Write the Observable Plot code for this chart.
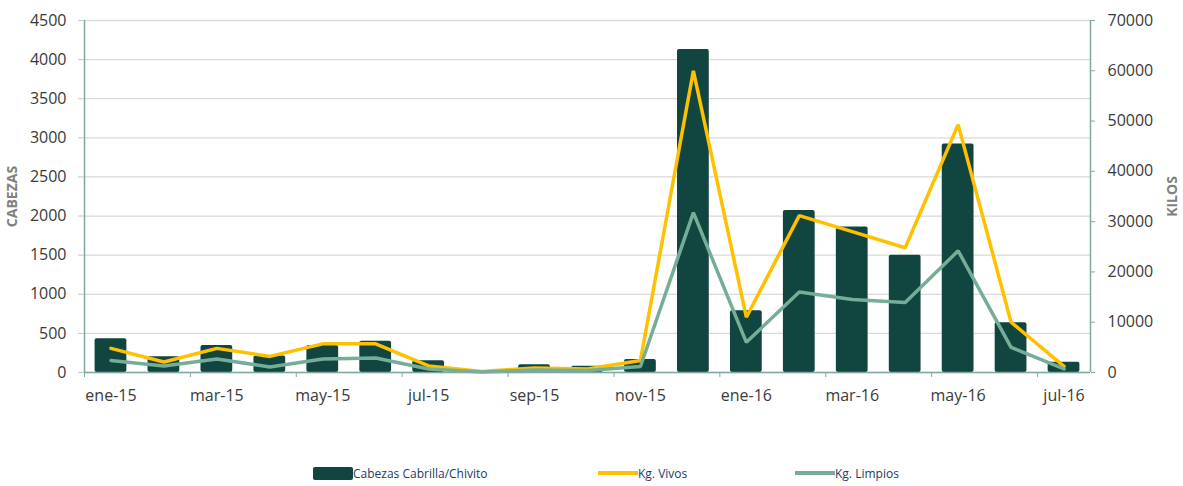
<!DOCTYPE html>
<html>
<head>
<meta charset="utf-8">
<script src="https://cdn.jsdelivr.net/npm/d3@7"></script>
<script src="https://cdn.jsdelivr.net/npm/@observablehq/plot@0.6"></script>
<style>
  body { margin: 0; background: #fff; font-family: "Open Sans", sans-serif; }
  #chart { position: relative; width: 1183px; }
  #legend { position: relative; height: 46px; width: 1183px; font-size: 12px; color: #1f3864; }
  .item { position: absolute; top: 26px; display: flex; align-items: center; height: 14px; }
  .sw { display: inline-block; }
</style>
</head>
<body>
<div id="chart"></div>
<div id="legend">
  <div class="item" style="left:313px"><span class="sw" style="width:40px;height:13px;background:#11453f;border-radius:2px"></span><span>Cabezas Cabrilla/Chivito</span></div>
  <div class="item" style="left:598px"><span class="sw" style="width:40px;height:3.5px;background:#ffc000"></span><span>Kg. Vivos</span></div>
  <div class="item" style="left:795px"><span class="sw" style="width:40px;height:3.5px;background:#74ae98"></span><span>Kg. Limpios</span></div>
</div>
<script>
const months = ["ene-15","feb-15","mar-15","abr-15","may-15","jun-15","jul-15","ago-15","sep-15","oct-15","nov-15","dic-15","ene-16","feb-16","mar-16","abr-16","may-16","jun-16","jul-16"];
const cabezas = [430, 200, 345, 210, 345, 400, 150, 5, 100, 80, 165, 4130, 790, 2070, 1860, 1500, 2920, 635, 130];
const kgVivos = [4800, 2100, 4800, 3200, 5700, 5700, 1300, 200, 900, 700, 2400, 60000, 11000, 31200, 28000, 24800, 49300, 10000, 1200];
const kgLimpios = [2400, 1300, 2700, 1100, 2700, 2900, 700, 100, 500, 400, 1200, 31800, 6000, 16000, 14500, 13900, 24200, 5000, 700];
const leftTicks = [0,500,1000,1500,2000,2500,3000,3500,4000,4500];
const rightTicks = [0,10000,20000,30000,40000,50000,60000,70000];

const yMax = 4500, kMax = 70000, ratio = yMax / kMax;
const data = months.map((m, i) => ({i, m, cab: cabezas[i], viv: kgVivos[i], lim: kgLimpios[i]}));
const xDomain = [-0.5, months.length - 0.5];
const labelIdx = months.map((m, i) => i).filter(i => i % 2 === 0);
const boundaries = labelIdx.map(i => i - 0.5);
const axisColor = "#7fa9a1";

const chart = Plot.plot({
  width: 1183,
  height: 440,
  marginLeft: 84,
  marginRight: 93,
  marginTop: 20,
  marginBottom: 68,
  style: {fontFamily: "Open Sans", fontSize: "16px", color: "#3a3a3a", background: "#fff"},
  x: {type: "linear", domain: xDomain, axis: null},
  y: {domain: [0, yMax], axis: null},
  marks: [
    Plot.ruleY(leftTicks, {stroke: "#d9d9d9", strokeWidth: 1.3}),
    Plot.rectY(data, {x1: d => d.i - 0.3, x2: d => d.i + 0.3, y1: 0, y2: "cab", fill: "#11453f", rx: 2}),
    Plot.line(data, {x: "i", y: d => d.viv * ratio, stroke: "#ffc000", strokeWidth: 3.5, strokeLinejoin: "miter"}),
    Plot.line(data, {x: "i", y: d => d.lim * ratio, stroke: "#74ae98", strokeWidth: 3.5, strokeLinejoin: "miter"}),
    Plot.ruleX([xDomain[0]], {stroke: axisColor, strokeWidth: 1.5}),
    Plot.ruleX([xDomain[1]], {stroke: axisColor, strokeWidth: 1.5}),
    Plot.ruleY([0], {stroke: axisColor, strokeWidth: 1.5}),
    Plot.axisY({anchor: "left", ticks: leftTicks, tickFormat: d => String(d), tickSize: 6, tickPadding: 12, stroke: "#b9c9c6", label: null}),
    Plot.axisY({anchor: "right", ticks: rightTicks.map(k => k * ratio), tickFormat: d => String(Math.round(d / ratio)), tickSize: 4, tickPadding: 13, stroke: axisColor, label: null}),
    Plot.axisX({anchor: "bottom", ticks: boundaries, tickFormat: () => "", tickSize: 5, stroke: axisColor, label: null}),
    Plot.axisX({anchor: "bottom", ticks: labelIdx, tickFormat: i => months[i], tickSize: 0, tickPadding: 17, label: null}),
    Plot.text(["CABEZAS"], {frameAnchor: "left", dx: -72, rotate: -90, fontWeight: "bold", fontSize: 14, fill: "#808080", textAnchor: "middle"}),
    Plot.text(["KILOS"], {frameAnchor: "right", dx: 82, rotate: -90, fontWeight: "bold", fontSize: 14, fill: "#808080", textAnchor: "middle"})
  ]
});
document.getElementById("chart").appendChild(chart);
</script>
</body>
</html>
